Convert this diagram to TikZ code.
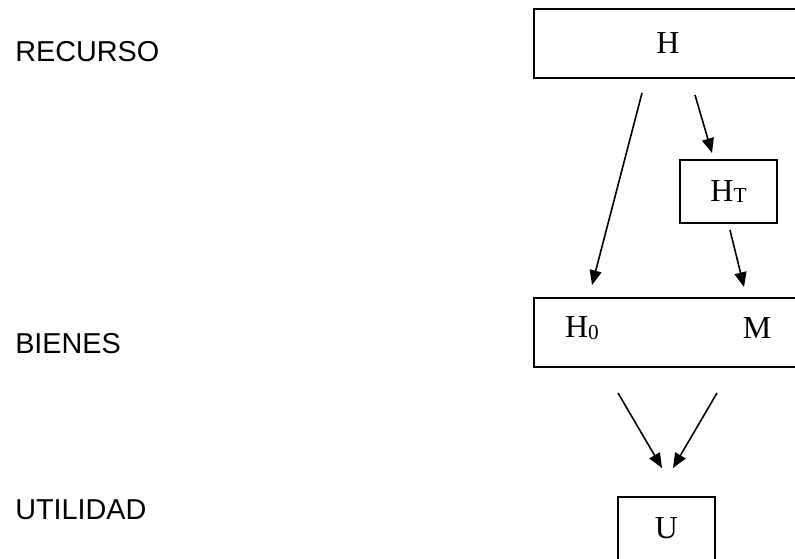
\documentclass[tikz,border=0pt]{standalone}
\usepackage{fontspec}
\setmainfont{Liberation Serif}
\newfontfamily\etiquetafont{Liberation Sans}
\usetikzlibrary{arrows.meta}
\newcommand{\subind}[1]{\raisebox{-1pt}{\fontsize{16}{16}\selectfont #1}}
\tikzset{
  caja/.style={draw, line width=1.3pt, inner sep=0pt, font=\fontsize{24}{28}\selectfont},
  flecha/.style={line width=1.2pt, -{Triangle[length=11pt, width=9pt]}},
  etiqueta/.style={anchor=west, inner sep=0pt, font=\etiquetafont\fontsize{21.6}{26}\selectfont}
}
\begin{document}
\begin{tikzpicture}[x=0.75pt, y=-0.75pt]
\useasboundingbox (0,0) rectangle (795,558);
\node[etiqueta] (recurso) at (15,52) {RECURSO};
\node[etiqueta] (bienes) at (15,344) {BIENES};
\node[etiqueta] (utilidad) at (15,510) {UTILIDAD};
\node[caja, minimum width=201pt, minimum height=52pt] (h) at (668,43.5) {H};
\node[caja, minimum width=73pt, minimum height=47pt] (ht) at (728.5,191.5) {H\subind{T}};
\node[caja, minimum width=201pt, minimum height=52pt] (bien) at (668,332.5) {};
\node[font=\fontsize{24}{28}\selectfont, inner sep=0pt] (h0) at (582,328) {H\subind{0}};
\node[font=\fontsize{24}{28}\selectfont, inner sep=0pt] (m) at (757,328) {M};
\node[caja, minimum width=73pt, minimum height=47pt] (u) at (666.5,528.5) {U};
\coordinate (a1) at (642,93);
\coordinate (b1) at (592,285);
\coordinate (a2) at (695,95);
\coordinate (b2) at (712,153);
\coordinate (a3) at (730,230);
\coordinate (b3) at (744,287);
\coordinate (a4) at (618,393);
\coordinate (b4) at (662,468);
\coordinate (a5) at (717,393);
\coordinate (b5) at (673,468);
\draw[flecha] (a1) -- (b1);
\draw[flecha] (a2) -- (b2);
\draw[flecha] (a3) -- (b3);
\draw[flecha] (a4) -- (b4);
\draw[flecha] (a5) -- (b5);
\end{tikzpicture}
\end{document}
